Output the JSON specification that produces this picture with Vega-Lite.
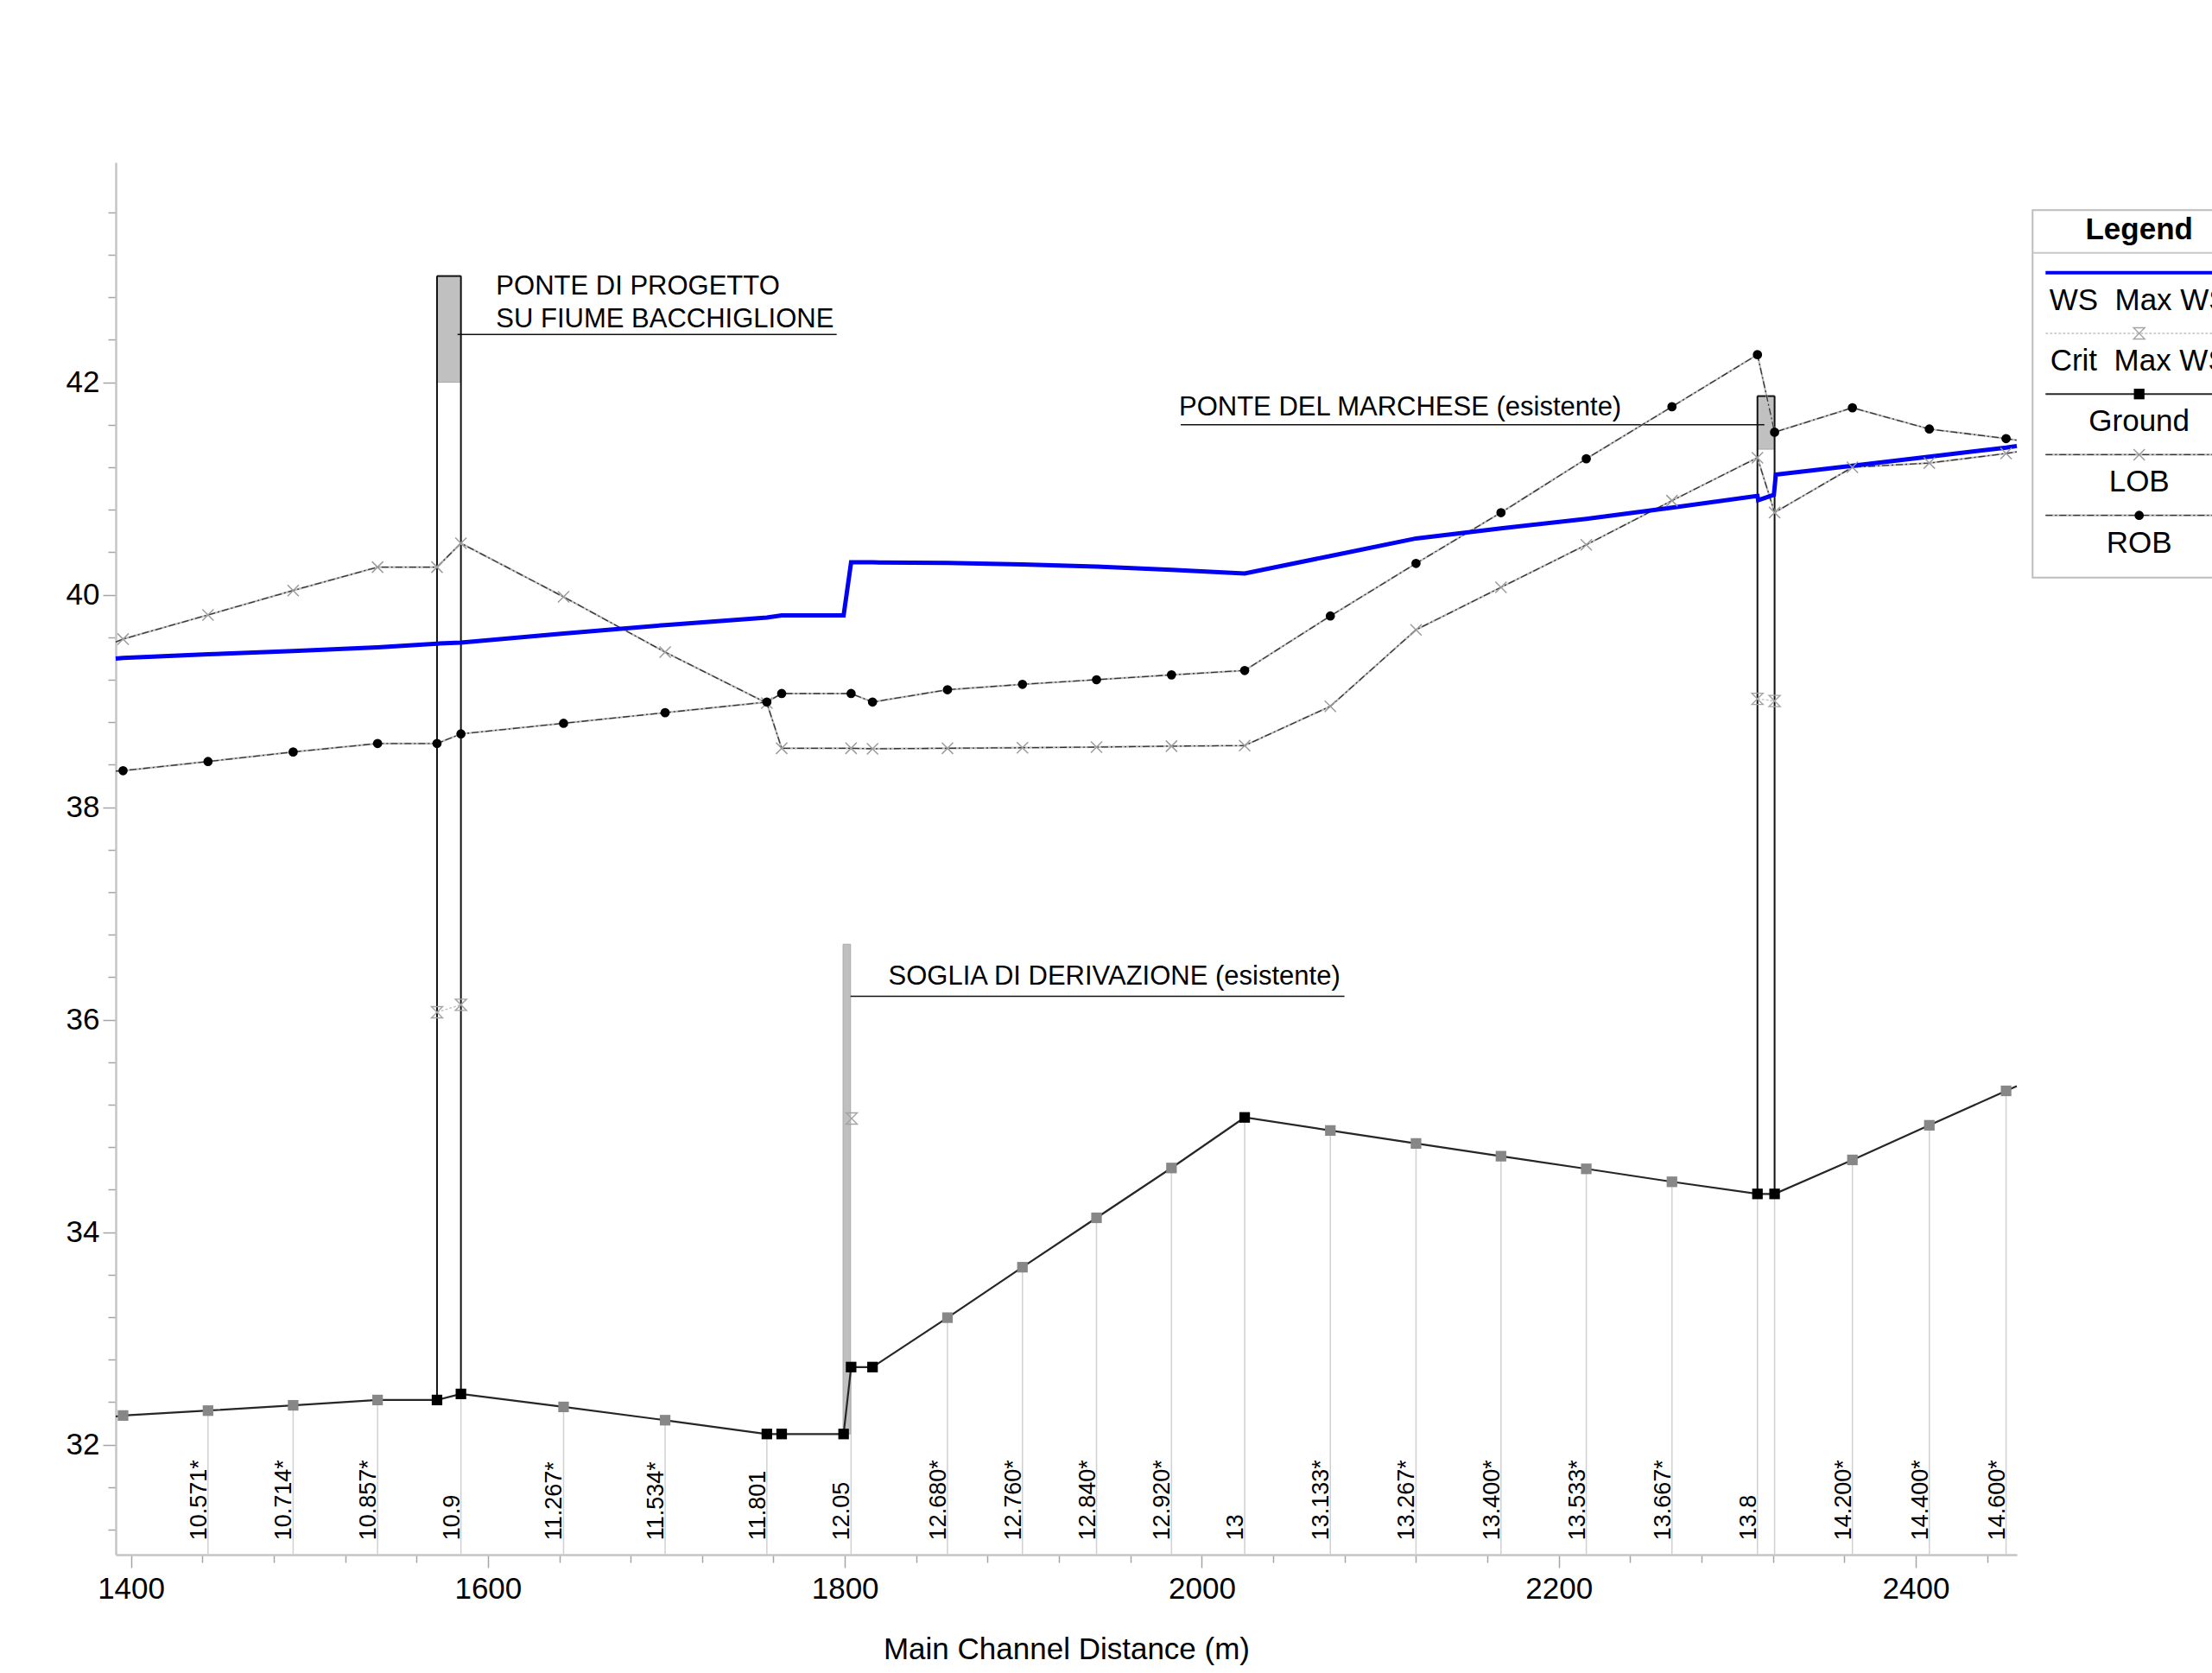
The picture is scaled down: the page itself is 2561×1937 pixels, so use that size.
{
  "$schema": "https://vega.github.io/schema/vega-lite/v6.json",
  "width": 2201,
  "height": 1612,
  "autosize": {"type": "none"},
  "padding": {"left": 134, "top": 188, "right": 226, "bottom": 137},
  "background": "#ffffff",
  "config": {"font": "Liberation Sans", "view": {"stroke": null}},
  "datasets": {
    "ground": [
      {"x": 1391.5, "z": 32.265, "t": "edge"},
      {"x": 1395.6, "z": 32.274, "t": "interp"},
      {"x": 1443.2, "z": 32.32, "t": "interp"},
      {"x": 1490.9, "z": 32.37, "t": "interp"},
      {"x": 1538.2, "z": 32.42, "t": "interp"},
      {"x": 1571.5, "z": 32.42, "t": "real"},
      {"x": 1584.9, "z": 32.477, "t": "real"},
      {"x": 1642.4, "z": 32.355, "t": "interp"},
      {"x": 1699.3, "z": 32.23, "t": "interp"},
      {"x": 1756.3, "z": 32.1, "t": "real"},
      {"x": 1764.6, "z": 32.1, "t": "real"},
      {"x": 1799.3, "z": 32.1, "t": "real"},
      {"x": 1803.5, "z": 32.73, "t": "real"},
      {"x": 1815.5, "z": 32.73, "t": "real"},
      {"x": 1857.5, "z": 33.195, "t": "interp"},
      {"x": 1899.5, "z": 33.67, "t": "interp"},
      {"x": 1941.0, "z": 34.135, "t": "interp"},
      {"x": 1983.0, "z": 34.604, "t": "interp"},
      {"x": 2024.0, "z": 35.08, "t": "real"},
      {"x": 2072.0, "z": 34.957, "t": "interp"},
      {"x": 2120.0, "z": 34.835, "t": "interp"},
      {"x": 2167.6, "z": 34.715, "t": "interp"},
      {"x": 2215.4, "z": 34.596, "t": "interp"},
      {"x": 2263.4, "z": 34.474, "t": "interp"},
      {"x": 2311.3, "z": 34.36, "t": "real"},
      {"x": 2320.9, "z": 34.36, "t": "real"},
      {"x": 2364.5, "z": 34.68, "t": "interp"},
      {"x": 2407.6, "z": 35.006, "t": "interp"},
      {"x": 2450.6, "z": 35.33, "t": "interp"},
      {"x": 2456.6, "z": 35.375, "t": "edge"}
    ],
    "lob": [
      {"x": 1391.5, "z": 39.555, "t": "edge"},
      {"x": 1395.6, "z": 39.583},
      {"x": 1443.2, "z": 39.81},
      {"x": 1490.9, "z": 40.04},
      {"x": 1538.2, "z": 40.26},
      {"x": 1571.5, "z": 40.26},
      {"x": 1584.9, "z": 40.485},
      {"x": 1642.4, "z": 39.98},
      {"x": 1699.3, "z": 39.46},
      {"x": 1756.3, "z": 38.98},
      {"x": 1764.6, "z": 38.555},
      {"x": 1803.5, "z": 38.555},
      {"x": 1815.5, "z": 38.55},
      {"x": 1857.5, "z": 38.555},
      {"x": 1899.5, "z": 38.56},
      {"x": 1941.0, "z": 38.566},
      {"x": 1983.0, "z": 38.575},
      {"x": 2024.0, "z": 38.58},
      {"x": 2072.0, "z": 38.95},
      {"x": 2120.0, "z": 39.67},
      {"x": 2167.6, "z": 40.07},
      {"x": 2215.4, "z": 40.47},
      {"x": 2263.4, "z": 40.886},
      {"x": 2311.3, "z": 41.29},
      {"x": 2320.9, "z": 40.774},
      {"x": 2364.5, "z": 41.2},
      {"x": 2407.6, "z": 41.24},
      {"x": 2450.6, "z": 41.33},
      {"x": 2456.6, "z": 41.345, "t": "edge"}
    ],
    "rob": [
      {"x": 1391.5, "z": 38.34, "t": "edge"},
      {"x": 1395.6, "z": 38.344},
      {"x": 1443.2, "z": 38.43},
      {"x": 1490.9, "z": 38.52},
      {"x": 1538.2, "z": 38.6},
      {"x": 1571.5, "z": 38.6},
      {"x": 1584.9, "z": 38.69},
      {"x": 1642.4, "z": 38.79},
      {"x": 1699.3, "z": 38.89},
      {"x": 1756.3, "z": 38.99},
      {"x": 1764.6, "z": 39.07},
      {"x": 1803.5, "z": 39.07},
      {"x": 1815.5, "z": 38.99},
      {"x": 1857.5, "z": 39.106},
      {"x": 1899.5, "z": 39.157},
      {"x": 1941.0, "z": 39.2},
      {"x": 1983.0, "z": 39.246},
      {"x": 2024.0, "z": 39.287},
      {"x": 2072.0, "z": 39.8},
      {"x": 2120.0, "z": 40.295},
      {"x": 2167.6, "z": 40.773},
      {"x": 2215.4, "z": 41.28},
      {"x": 2263.4, "z": 41.77},
      {"x": 2311.3, "z": 42.26},
      {"x": 2320.9, "z": 41.53},
      {"x": 2364.5, "z": 41.76},
      {"x": 2407.6, "z": 41.56},
      {"x": 2450.6, "z": 41.47},
      {"x": 2456.6, "z": 41.455, "t": "edge"}
    ],
    "ws": [
      {"x": 1391.5, "z": 39.4},
      {"x": 1395.6, "z": 39.405},
      {"x": 1443.2, "z": 39.44},
      {"x": 1490.9, "z": 39.47},
      {"x": 1538.2, "z": 39.505},
      {"x": 1571.5, "z": 39.54},
      {"x": 1584.9, "z": 39.55},
      {"x": 1642.4, "z": 39.635},
      {"x": 1699.3, "z": 39.715},
      {"x": 1756.3, "z": 39.785},
      {"x": 1764.6, "z": 39.805},
      {"x": 1799.3, "z": 39.805},
      {"x": 1803.5, "z": 40.305},
      {"x": 1815.5, "z": 40.305},
      {"x": 1857.5, "z": 40.3},
      {"x": 1899.5, "z": 40.285},
      {"x": 1941.0, "z": 40.265},
      {"x": 1983.0, "z": 40.235},
      {"x": 2024.0, "z": 40.2},
      {"x": 2072.0, "z": 40.365},
      {"x": 2120.0, "z": 40.53},
      {"x": 2167.6, "z": 40.625},
      {"x": 2215.4, "z": 40.715},
      {"x": 2263.4, "z": 40.82},
      {"x": 2311.3, "z": 40.93},
      {"x": 2311.7, "z": 40.89},
      {"x": 2320.5, "z": 40.94},
      {"x": 2321.6, "z": 41.13},
      {"x": 2364.5, "z": 41.215},
      {"x": 2407.6, "z": 41.3},
      {"x": 2450.6, "z": 41.385},
      {"x": 2456.6, "z": 41.4}
    ],
    "crit": [
      {"x": 1571.5, "z": 36.07, "seg": "a"},
      {"x": 1584.9, "z": 36.14, "seg": "a"},
      {"x": 1803.8, "z": 35.07, "seg": "b"},
      {"x": 2311.3, "z": 39.02, "seg": "c"},
      {"x": 2320.9, "z": 39.0, "seg": "c"}
    ],
    "stations": [
      {"x": 1443.2, "z": 32.32, "label": "10.571*"},
      {"x": 1490.9, "z": 32.37, "label": "10.714*"},
      {"x": 1538.2, "z": 32.42, "label": "10.857*"},
      {"x": 1584.9, "z": 32.477, "label": "10.9"},
      {"x": 1642.4, "z": 32.355, "label": "11.267*"},
      {"x": 1699.3, "z": 32.23, "label": "11.534*"},
      {"x": 1756.3, "z": 32.1, "label": "11.801"},
      {"x": 1803.5, "z": 32.73, "label": "12.05"},
      {"x": 1857.5, "z": 33.195, "label": "12.680*"},
      {"x": 1899.5, "z": 33.67, "label": "12.760*"},
      {"x": 1941.0, "z": 34.135, "label": "12.840*"},
      {"x": 1983.0, "z": 34.604, "label": "12.920*"},
      {"x": 2024.0, "z": 35.08, "label": "13"},
      {"x": 2072.0, "z": 34.957, "label": "13.133*"},
      {"x": 2120.0, "z": 34.835, "label": "13.267*"},
      {"x": 2167.6, "z": 34.715, "label": "13.400*"},
      {"x": 2215.4, "z": 34.596, "label": "13.533*"},
      {"x": 2263.4, "z": 34.474, "label": "13.667*"},
      {"x": 2311.3, "z": 34.36, "label": "13.8"},
      {"x": 2320.9, "z": 34.36, "label": ""},
      {"x": 2364.5, "z": 34.68, "label": "14.200*"},
      {"x": 2407.6, "z": 35.006, "label": "14.400*"},
      {"x": 2450.6, "z": 35.33, "label": "14.600*"}
    ],
    "structures": [
      {"x": 1571.5, "x2": 1584.9, "z": 42.0, "z2": 43.0},
      {"x": 2311.3, "x2": 2320.9, "z": 41.37, "z2": 41.87},
      {"x": 1799.0, "x2": 1803.2, "z": 32.1, "z2": 36.71}
    ],
    "bridgeLines": [
      {"x": 1571.5, "x2": 1571.5, "z": 32.42, "z2": 43.0},
      {"x": 1584.9, "x2": 1584.9, "z": 32.477, "z2": 43.0},
      {"x": 1571.5, "x2": 1584.9, "z": 43.0, "z2": 43.0},
      {"x": 2311.3, "x2": 2311.3, "z": 34.36, "z2": 41.87},
      {"x": 2320.9, "x2": 2320.9, "z": 34.36, "z2": 41.87},
      {"x": 2311.3, "x2": 2320.9, "z": 41.87, "z2": 41.87}
    ],
    "leaders": [
      {"x": 1583.0, "x2": 1795.4, "z": 42.45},
      {"x": 1988.2, "x2": 2315.2, "z": 41.6},
      {"x": 1803.2, "x2": 2079.9, "z": 36.22}
    ],
    "notes": [
      {"x": 1604.6, "z": 42.824, "text": "PONTE DI PROGETTO"},
      {"x": 1604.6, "z": 42.519, "text": "SU FIUME BACCHIGLIONE"},
      {"x": 1987.2, "z": 41.691, "text": "PONTE DEL MARCHESE (esistente)"},
      {"x": 1824.4, "z": 36.33, "text": "SOGLIA DI DERIVAZIONE (esistente)"}
    ],
    "legend": [
      {"name": "WS", "label": "WS \u00a0Max WS", "idx": 0},
      {"name": "Crit", "label": "Crit \u00a0Max WS", "idx": 1},
      {"name": "Ground", "label": "Ground", "idx": 2},
      {"name": "LOB", "label": "LOB", "idx": 3},
      {"name": "ROB", "label": "ROB", "idx": 4}
    ]
  },
  "layer": [
    {
      "encoding": {
        "x": {
          "field": "x", "type": "quantitative",
          "scale": {"domain": [1391.5, 2456.6], "nice": false, "zero": false},
          "axis": {
            "title": "Main Channel Distance (m)",
            "values": [1400,1440,1480,1520,1560,1600,1640,1680,1720,1760,1800,1840,1880,1920,1960,2000,2040,2080,2120,2160,2200,2240,2280,2320,2360,2400,2440],
            "tickCount": 500, "tickMinStep": 1,
            "format": "d",
            "labelExpr": "datum.value % 200 === 0 ? datum.label : ''",
            "tickSize": {"condition": {"test": "datum.value % 200 === 0", "value": 15}, "value": 9},
            "labelOverlap": false, "labelFlush": false, "grid": false,
            "labelFontSize": 35, "labelColor": "#000000", "labelPadding": 7,
            "titleFontSize": 35, "titleFontWeight": "normal", "titleColor": "#000000", "titlePadding": 35,
            "domainColor": "#c4c4c4", "domainWidth": 2.5,
            "tickColor": "#a4a4a4", "tickWidth": 1.5
          }
        },
        "y": {
          "field": "z", "type": "quantitative",
          "scale": {"domain": [30.964, 44.07], "nice": false, "zero": false},
          "axis": {
            "title": null,
            "values": [31.2,31.6,32,32.4,32.8,33.2,33.6,34,34.4,34.8,35.2,35.6,36,36.4,36.8,37.2,37.6,38,38.4,38.8,39.2,39.6,40,40.4,40.8,41.2,41.6,42,42.4,42.8,43.2,43.6],
            "tickCount": 500, "tickMinStep": 0.1,
            "labelExpr": "datum.value % 2 === 0 ? format(datum.value, 'd') : ''",
            "tickSize": {"condition": {"test": "datum.value % 2 === 0", "value": 15}, "value": 9},
            "labelOverlap": false, "grid": false,
            "labelFontSize": 35, "labelColor": "#000000", "labelPadding": 4,
            "domainColor": "#c4c4c4", "domainWidth": 2.5,
            "tickColor": "#a4a4a4", "tickWidth": 1.5
          }
        }
      },
      "layer": [
        {
          "data": {"name": "stations"},
          "mark": {"type": "rule", "color": "#d0d0d0", "strokeWidth": 1.5},
          "encoding": {"y2": {"datum": 30.964}}
        },
        {
          "data": {"name": "stations"},
          "mark": {"type": "text", "angle": 270, "align": "left", "baseline": "alphabetic", "fontSize": 27, "dy": -2, "color": "#000000"},
          "encoding": {
            "y": {
              "datum": 31.1, "type": "quantitative",
              "axis": {
                "title": null,
                "values": [31.2,31.6,32,32.4,32.8,33.2,33.6,34,34.4,34.8,35.2,35.6,36,36.4,36.8,37.2,37.6,38,38.4,38.8,39.2,39.6,40,40.4,40.8,41.2,41.6,42,42.4,42.8,43.2,43.6],
                "tickCount": 500, "tickMinStep": 0.1,
                "labelExpr": "datum.value % 2 === 0 ? format(datum.value, 'd') : ''",
                "tickSize": {"condition": {"test": "datum.value % 2 === 0", "value": 15}, "value": 9},
                "labelOverlap": false, "grid": false,
                "labelFontSize": 35, "labelColor": "#000000", "labelPadding": 4,
                "domainColor": "#c4c4c4", "domainWidth": 2.5,
                "tickColor": "#a4a4a4", "tickWidth": 1.5
              }
            },
            "text": {"field": "label"}
          }
        },
        {
          "data": {"name": "structures"},
          "mark": {"type": "rect", "fill": "#c0c0c0", "stroke": "#a8a8a8", "strokeWidth": 1},
          "encoding": {"x2": {"field": "x2"}, "y2": {"field": "z2"}}
        },
        {
          "data": {"name": "bridgeLines"},
          "mark": {"type": "rule", "color": "#111111", "strokeWidth": 2},
          "encoding": {"x2": {"field": "x2"}, "y2": {"field": "z2"}}
        },
        {
          "data": {"name": "leaders"},
          "mark": {"type": "rule", "color": "#111111", "strokeWidth": 1.5},
          "encoding": {"x2": {"field": "x2"}}
        },
        {
          "data": {"name": "notes"},
          "mark": {"type": "text", "align": "left", "baseline": "alphabetic", "fontSize": 31, "color": "#000000"},
          "encoding": {"text": {"field": "text"}}
        },
        {
          "data": {"name": "ground"},
          "mark": {"type": "line", "color": "#262626", "strokeWidth": 2.2}
        },
        {
          "data": {"name": "ground"},
          "transform": [{"filter": "datum.t === 'interp'"}],
          "mark": {"type": "point", "shape": "square", "filled": true, "size": 150, "color": "#878787", "opacity": 1}
        },
        {
          "data": {"name": "ground"},
          "transform": [{"filter": "datum.t === 'real'"}],
          "mark": {"type": "point", "shape": "square", "filled": true, "size": 150, "color": "#000000", "opacity": 1}
        },
        {
          "data": {"name": "crit"},
          "mark": {"type": "line", "color": "#c4c4c4", "strokeWidth": 1.5, "strokeDash": [3, 2]},
          "encoding": {"detail": {"field": "seg"}}
        },
        {
          "data": {"name": "lob"},
          "mark": {"type": "line", "color": "#bdbdbd", "strokeWidth": 2.2}
        },
        {
          "data": {"name": "lob"},
          "mark": {"type": "line", "color": "#333333", "strokeWidth": 1.3, "strokeDash": [8, 3, 2, 3]}
        },
        {
          "data": {"name": "rob"},
          "mark": {"type": "line", "color": "#bdbdbd", "strokeWidth": 2.2}
        },
        {
          "data": {"name": "rob"},
          "mark": {"type": "line", "color": "#333333", "strokeWidth": 1.3, "strokeDash": [8, 3, 2, 3]}
        },
        {
          "data": {"name": "ws"},
          "mark": {"type": "line", "color": "#0000f2", "strokeWidth": 5}
        },
        {
          "data": {"name": "crit"},
          "mark": {"type": "point", "shape": "M-1,-1L1,-1L-1,1L1,1Z", "filled": false, "size": 170, "stroke": "#a4a4a4", "strokeWidth": 1.4, "opacity": 1}
        },
        {
          "data": {"name": "lob"},
          "transform": [{"filter": "datum.t !== 'edge'"}],
          "mark": {"type": "point", "shape": "M-1,-1L1,1M-1,1L1,-1", "filled": false, "size": 170, "stroke": "#9c9c9c", "strokeWidth": 1.5, "opacity": 1}
        },
        {
          "data": {"name": "rob"},
          "transform": [{"filter": "datum.t !== 'edge'"}],
          "mark": {"type": "point", "shape": "circle", "filled": true, "size": 115, "color": "#000000", "opacity": 1}
        }
      ]
    },
    {
      "layer": [
        {
          "data": {"values": [{}]},
          "mark": {"type": "rect", "fill": "#ffffff", "stroke": "#bdbdbd", "strokeWidth": 2},
          "encoding": {
            "x": {"datum": 0, "type": "quantitative", "scale": {"domain": [-8.9923, -0.0741], "nice": false, "zero": false}, "axis": null},
            "x2": {"datum": 1.3},
            "y": {"datum": -1.0306, "type": "quantitative", "scale": {"domain": [-1.8178, 21.1288], "nice": false, "zero": false, "reverse": true}, "axis": null},
            "y2": {"datum": 5.0263}
          }
        },
        {
          "data": {"values": [{}]},
          "mark": {"type": "rule", "color": "#c8c8c8", "strokeWidth": 2},
          "encoding": {
            "x": {"datum": 0, "type": "quantitative", "scale": {"domain": [-8.9923, -0.0741], "nice": false, "zero": false}, "axis": null},
            "x2": {"datum": 1.3},
            "y": {"datum": -0.3274, "type": "quantitative", "scale": {"domain": [-1.8178, 21.1288], "nice": false, "zero": false, "reverse": true}, "axis": null}
          }
        },
        {
          "data": {"values": [{}]},
          "mark": {"type": "text", "fontSize": 35, "fontWeight": "bold", "align": "center", "baseline": "alphabetic", "color": "#000000"},
          "encoding": {
            "x": {"datum": 0.5, "type": "quantitative", "scale": {"domain": [-8.9923, -0.0741], "nice": false, "zero": false}, "axis": null},
            "y": {"datum": -0.5552, "type": "quantitative", "scale": {"domain": [-1.8178, 21.1288], "nice": false, "zero": false, "reverse": true}, "axis": null},
            "text": {"value": "Legend"}
          }
        },
        {
          "data": {"name": "legend"},
          "transform": [{"filter": "datum.name === 'WS'"}],
          "mark": {"type": "rule", "color": "#0000f2", "strokeWidth": 4},
          "encoding": {
            "x": {"datum": 0.0608, "type": "quantitative", "scale": {"domain": [-8.9923, -0.0741], "nice": false, "zero": false}, "axis": null},
            "x2": {"datum": 1.3},
            "y": {"field": "idx", "type": "quantitative", "scale": {"domain": [-1.8178, 21.1288], "nice": false, "zero": false, "reverse": true}, "axis": null}
          }
        },
        {
          "data": {"name": "legend"},
          "transform": [{"filter": "datum.name === 'Crit'"}],
          "mark": {"type": "rule", "color": "#c4c4c4", "strokeWidth": 1.5, "strokeDash": [3, 2]},
          "encoding": {
            "x": {"datum": 0.0608, "type": "quantitative", "scale": {"domain": [-8.9923, -0.0741], "nice": false, "zero": false}, "axis": null},
            "x2": {"datum": 1.3},
            "y": {"field": "idx", "type": "quantitative", "scale": {"domain": [-1.8178, 21.1288], "nice": false, "zero": false, "reverse": true}, "axis": null}
          }
        },
        {
          "data": {"name": "legend"},
          "transform": [{"filter": "datum.name === 'Ground'"}],
          "mark": {"type": "rule", "color": "#262626", "strokeWidth": 2},
          "encoding": {
            "x": {"datum": 0.0608, "type": "quantitative", "scale": {"domain": [-8.9923, -0.0741], "nice": false, "zero": false}, "axis": null},
            "x2": {"datum": 1.3},
            "y": {"field": "idx", "type": "quantitative", "scale": {"domain": [-1.8178, 21.1288], "nice": false, "zero": false, "reverse": true}, "axis": null}
          }
        },
        {
          "data": {"name": "legend"},
          "transform": [{"filter": "datum.name === 'LOB' || datum.name === 'ROB'"}],
          "mark": {"type": "rule", "color": "#bdbdbd", "strokeWidth": 2.2},
          "encoding": {
            "x": {"datum": 0.0608, "type": "quantitative", "scale": {"domain": [-8.9923, -0.0741], "nice": false, "zero": false}, "axis": null},
            "x2": {"datum": 1.3},
            "y": {"field": "idx", "type": "quantitative", "scale": {"domain": [-1.8178, 21.1288], "nice": false, "zero": false, "reverse": true}, "axis": null}
          }
        },
        {
          "data": {"name": "legend"},
          "transform": [{"filter": "datum.name === 'LOB' || datum.name === 'ROB'"}],
          "mark": {"type": "rule", "color": "#333333", "strokeWidth": 1.3, "strokeDash": [8, 3, 2, 3]},
          "encoding": {
            "x": {"datum": 0.0608, "type": "quantitative", "scale": {"domain": [-8.9923, -0.0741], "nice": false, "zero": false}, "axis": null},
            "x2": {"datum": 1.3},
            "y": {"field": "idx", "type": "quantitative", "scale": {"domain": [-1.8178, 21.1288], "nice": false, "zero": false, "reverse": true}, "axis": null}
          }
        },
        {
          "data": {"name": "legend"},
          "transform": [{"filter": "datum.name === 'Crit'"}],
          "mark": {"type": "point", "shape": "M-1,-1L1,-1L-1,1L1,1Z", "filled": false, "size": 170, "stroke": "#a4a4a4", "strokeWidth": 1.4, "opacity": 1},
          "encoding": {
            "x": {"datum": 0.5, "type": "quantitative", "scale": {"domain": [-8.9923, -0.0741], "nice": false, "zero": false}, "axis": null},
            "y": {"field": "idx", "type": "quantitative", "scale": {"domain": [-1.8178, 21.1288], "nice": false, "zero": false, "reverse": true}, "axis": null}
          }
        },
        {
          "data": {"name": "legend"},
          "transform": [{"filter": "datum.name === 'Ground'"}],
          "mark": {"type": "point", "shape": "square", "filled": true, "size": 150, "color": "#000000", "opacity": 1},
          "encoding": {
            "x": {"datum": 0.5, "type": "quantitative", "scale": {"domain": [-8.9923, -0.0741], "nice": false, "zero": false}, "axis": null},
            "y": {"field": "idx", "type": "quantitative", "scale": {"domain": [-1.8178, 21.1288], "nice": false, "zero": false, "reverse": true}, "axis": null}
          }
        },
        {
          "data": {"name": "legend"},
          "transform": [{"filter": "datum.name === 'LOB'"}],
          "mark": {"type": "point", "shape": "M-1,-1L1,1M-1,1L1,-1", "filled": false, "size": 170, "stroke": "#9c9c9c", "strokeWidth": 1.5, "opacity": 1},
          "encoding": {
            "x": {"datum": 0.5, "type": "quantitative", "scale": {"domain": [-8.9923, -0.0741], "nice": false, "zero": false}, "axis": null},
            "y": {"field": "idx", "type": "quantitative", "scale": {"domain": [-1.8178, 21.1288], "nice": false, "zero": false, "reverse": true}, "axis": null}
          }
        },
        {
          "data": {"name": "legend"},
          "transform": [{"filter": "datum.name === 'ROB'"}],
          "mark": {"type": "point", "shape": "circle", "filled": true, "size": 115, "color": "#000000", "opacity": 1},
          "encoding": {
            "x": {"datum": 0.5, "type": "quantitative", "scale": {"domain": [-8.9923, -0.0741], "nice": false, "zero": false}, "axis": null},
            "y": {"field": "idx", "type": "quantitative", "scale": {"domain": [-1.8178, 21.1288], "nice": false, "zero": false, "reverse": true}, "axis": null}
          }
        },
        {
          "data": {"name": "legend"},
          "mark": {"type": "text", "fontSize": 35, "align": "center", "baseline": "alphabetic", "dy": 43, "color": "#000000"},
          "encoding": {
            "x": {"datum": 0.5, "type": "quantitative", "scale": {"domain": [-8.9923, -0.0741], "nice": false, "zero": false}, "axis": null},
            "y": {"field": "idx", "type": "quantitative", "scale": {"domain": [-1.8178, 21.1288], "nice": false, "zero": false, "reverse": true}, "axis": null},
            "text": {"field": "label"}
          }
        }
      ]
    }
  ],
  "resolve": {"scale": {"x": "independent", "y": "independent"}}
}
